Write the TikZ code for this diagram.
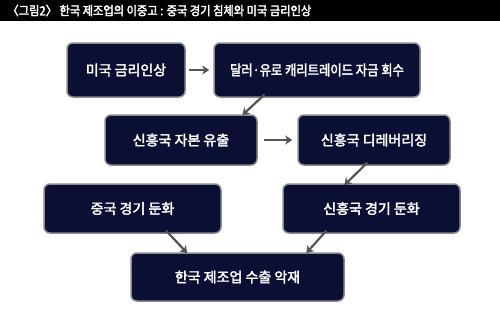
\documentclass[tikz,border=0pt]{standalone}
\usepackage{fontspec}
\setmainfont{Noto Sans CJK KR}[BoldFont={Noto Sans CJK KR}, BoldFeatures={FakeBold=2.5}]
\usetikzlibrary{arrows.meta,positioning}
\definecolor{boxnavy}{RGB}{12,15,52}
\definecolor{boxedge}{RGB}{138,138,142}
\definecolor{arrowgray}{RGB}{85,85,85}
\tikzset{
  flowbox/.style={draw=boxedge, line width=1.5pt, fill=boxnavy, rounded corners=6pt,
    text=white, font=\bfseries\fontsize{14}{16}\selectfont, inner sep=0pt},
  narrowtext/.style={font=\bfseries\fontsize{14}{16}\selectfont\addfontfeature{FakeStretch=0.88}},
  flowarrow/.style={draw=arrowgray, line width=2.2pt,
    -{Stealth[length=7pt,width=9pt,inset=2pt]}}
}

\begin{document}
\begin{tikzpicture}[x=1pt, y=-1pt]
    \useasboundingbox (0,0) rectangle (500,308);
    \fill[black] (0,0) rectangle (500,20.5);
    \node[anchor=west, text=white, font=\bfseries\fontsize{12.5}{14}\selectfont\addfontfeature{FakeStretch=0.9}] (title) at (4,10.5)
        {〈그림2〉 한국 제조업의 이중고 : 중국 경기 침체와 미국 금리인상};

    \node[flowbox, minimum width=118pt, minimum height=54pt] (rate) at (126,70) {미국 금리인상};
    \node[flowbox, narrowtext, minimum width=206pt, minimum height=54pt] (carry) at (317,70) {달러·유로 캐리트레이드 자금 회수};
    \node[flowbox, minimum width=152pt, minimum height=50pt] (outflow) at (181,140) {신흥국 자본 유출};
    \node[flowbox, minimum width=152pt, minimum height=50pt] (delever) at (374,140) {신흥국 디레버리징};
    \node[flowbox, minimum width=177pt, minimum height=49pt] (china) at (132.5,208.5) {중국 경기 둔화};
    \node[flowbox, minimum width=177pt, minimum height=49pt] (emerging) at (371.5,208.5) {신흥국 경기 둔화};
    \node[flowbox, minimum width=213pt, minimum height=48pt] (export) at (237.5,277) {한국 제조업 수출 악재};

    \draw[flowarrow] ([xshift=3pt]rate.east) -- ([xshift=-4pt]carry.west);
    \draw[flowarrow] ([xshift=51pt,yshift=3pt]carry.south west) -- ([xshift=138pt,yshift=-1pt]outflow.north west);
    \draw[flowarrow] ([xshift=6pt]outflow.east) -- ([xshift=-5pt]delever.west);
    \draw[flowarrow] ([xshift=70pt,yshift=3pt]delever.south west) -- ([xshift=62pt,yshift=-2pt]emerging.north west);
    \draw[flowarrow] ([xshift=123pt,yshift=3pt]china.south west) -- ([xshift=57pt,yshift=-1pt]export.north west);
    \draw[flowarrow] ([xshift=44pt,yshift=3pt]emerging.south west) -- ([xshift=176pt,yshift=-1pt]export.north west);
\end{tikzpicture}
\end{document}
